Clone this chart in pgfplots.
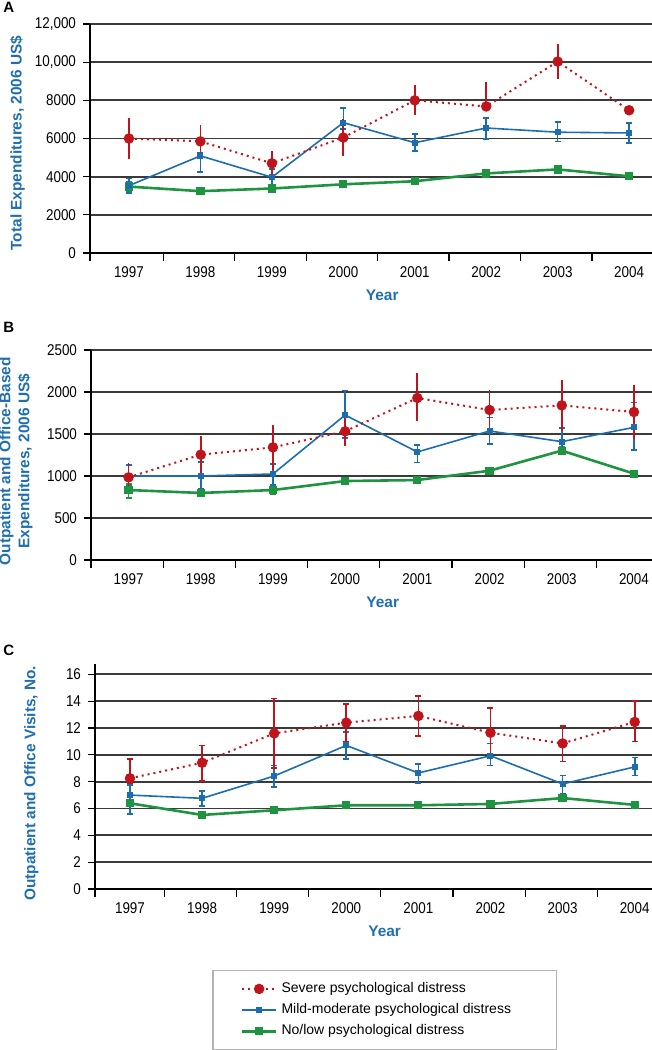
\documentclass[border=0pt]{standalone}
\usepackage{fontspec}
\setmainfont{Liberation Sans}
\newfontfamily\narrowfont[FakeStretch=0.86]{Liberation Sans}
\usepackage{pgfplots}
\pgfplotsset{compat=1.18}
\definecolor{sred}{HTML}{C0141C}
\definecolor{sblue}{HTML}{1C6DB0}
\definecolor{sgreen}{HTML}{1E9440}
\definecolor{lblue}{HTML}{1F6FAF}
\definecolor{darkgrid}{HTML}{3A3A3A}
\definecolor{legendgray}{HTML}{B4B4B4}
\pgfplotsset{
  panel/.style={
    scale only axis,
    axis x line*=bottom, axis y line*=left,
    axis line style={-, black, line width=0.6pt},
    tick align=outside,
    xtick={0,1,2,3,4,5,6,7},
    xticklabels={1997,1998,1999,2000,2001,2002,2003,2004},
    major x tick style={draw=none},
    minor tick length=4pt,
    major tick length=3.5pt,
    tick style={black, line width=0.6pt},
    ymajorgrids,
    scaled y ticks=false,
    grid style={line width=0.9pt, color=darkgrid},
    ticklabel style={font=\narrowfont\fontsize{7.8}{9}\selectfont},
    xlabel={Year},
    label style={font=\bfseries\fontsize{7.7}{9.5}\selectfont, color=lblue},
    clip=false,
  },
  severe/.style={sred, line width=1pt, dash pattern=on 1pt off 2pt, mark=*, mark size=2.1pt,
    mark options={solid, fill=sred},
    error bars/.cd, y dir=both, y explicit, error mark=none,
    error bar style={solid, line width=0.9pt, sred}},
  severecap/.style={sred, line width=1pt, dash pattern=on 1pt off 2pt, mark=*, mark size=2.1pt,
    mark options={solid, fill=sred},
    error bars/.cd, y dir=both, y explicit,
    error bar style={solid, line width=0.8pt, sred},
    error mark options={solid, sred, line width=0.8pt, mark size=1.5pt, rotate=90}},
  mild/.style={sblue, line width=0.8pt, mark=square*, mark size=1.1pt, mark options={solid, fill=sblue},
    error bars/.cd, y dir=both, y explicit,
    error bar style={line width=0.8pt, sblue},
    error mark options={sblue, line width=0.8pt, mark size=1.5pt, rotate=90}},
  nolow/.style={sgreen, line width=1.3pt, mark=square*, mark size=1.4pt, mark options={solid, fill=sgreen},
    error bars/.cd, y dir=both, y explicit,
    error bar style={line width=0.8pt, sgreen},
    error mark options={sgreen, line width=0.8pt, mark size=1.5pt, rotate=90}},
}
\begin{document}
\begin{tikzpicture}
\useasboundingbox (0,0) rectangle (326pt,-525pt);
\node[anchor=north west, inner sep=0pt, font=\bfseries\fontsize{7.5}{9}\selectfont] at (1.5pt,-1pt) {A};
\node[anchor=north west, inner sep=0pt, font=\bfseries\fontsize{7.5}{9}\selectfont] at (1.5pt,-161pt) {B};
\node[anchor=north west, inner sep=0pt, font=\bfseries\fontsize{7.5}{9}\selectfont] at (1.5pt,-322.5pt) {C};

% Panel A
\begin{axis}[panel,
  at={(45pt,-12pt)}, anchor=north west,
  width=281pt, height=114.5pt,
  xmin=-0.545, xmax=7.32,
  minor xtick={-0.545,0.48,1.48,2.48,3.48,4.48,5.48,6.48},
  ymin=0, ymax=12000,
  ytick={0,2000,4000,6000,8000,10000,12000},
  yticklabels={0,2000,4000,6000,8000,{10,000},{12,000}},
  ylabel={Total Expenditures, 2006 US\$},
  ylabel style={at={(axis description cs:-0.129,0.48)}, anchor=center},
  xlabel style={at={(axis description cs:0.52,-0.183)}, anchor=center},
]
\addplot[nolow] coordinates {
 (0,3480) += (0,250) -= (0,250)
 (1,3240) += (0,150) -= (0,150)
 (2,3380) += (0,180) -= (0,180)
 (3,3600) += (0,120) -= (0,120)
 (4,3760) += (0,120) -= (0,120)
 (5,4170) += (0,130) -= (0,130)
 (6,4380) += (0,130) -= (0,130)
 (7,4020) += (0,130) -= (0,130)
};
\addplot[mild] coordinates {
 (0,3530) += (0,380) -= (0,390)
 (1,5090) += (0,170) -= (0,860)
 (2,3970) += (0,430) -= (0,430)
 (3,6830) += (0,770) -= (0,330)
 (4,5780) += (0,450) -= (0,450)
 (5,6550) += (0,540) -= (0,570)
 (6,6330) += (0,550) -= (0,490)
 (7,6290) += (0,520) -= (0,530)
};
\addplot[severe] coordinates {
 (0,6000) += (0,1050) -= (0,1050)
 (1,5850) += (0,850) -= (0,850)
 (2,4700) += (0,650) -= (0,650)
 (3,6050) += (0,950) -= (0,950)
 (4,8000) += (0,810) -= (0,780)
 (5,7680) += (0,1270) -= (0,120)
 (6,10030) += (0,900) -= (0,910)
 (7,7480) += (0,0) -= (0,0)
};
\end{axis}

% Panel B
\begin{axis}[panel,
  at={(45.5pt,-175pt)}, anchor=north west,
  width=280.5pt, height=105pt,
  xmin=-0.52, xmax=7.25,
  minor xtick={-0.52,0.48,1.48,2.48,3.48,4.48,5.48,6.48},
  ymin=0, ymax=2500,
  ytick={0,500,1000,1500,2000,2500},
  yticklabels={0,500,1000,1500,2000,2500},
  ylabel={Outpatient and Office-Based\\Expenditures, 2006 US\$},
  ylabel style={at={(axis description cs:-0.134,0.47)}, anchor=center, align=center},
  xlabel style={at={(axis description cs:0.52,-0.2)}, anchor=center},
]
\addplot[nolow] coordinates {
 (0,833) += (0,72) -= (0,95)
 (1,798) += (0,35) -= (0,35)
 (2,833) += (0,45) -= (0,45)
 (3,940) += (0,28) -= (0,28)
 (4,952) += (0,35) -= (0,35)
 (5,1063) += (0,40) -= (0,40)
 (6,1302) += (0,45) -= (0,45)
 (7,1028) += (0,35) -= (0,35)
};
\addplot[mild] coordinates {
 (0,1000) += (0,131) -= (0,115)
 (1,1000) += (0,170) -= (0,155)
 (2,1024) += (0,119) -= (0,131)
 (3,1726) += (0,290) -= (0,274)
 (4,1286) += (0,83) -= (0,123)
 (5,1536) += (0,162) -= (0,155)
 (6,1409) += (0,162) -= (0,147)
 (7,1579) += (0,298) -= (0,270)
};
\addplot[severe] coordinates {
 (0,984) += (0,170) -= (0,100)
 (1,1254) += (0,218) -= (0,218)
 (2,1341) += (0,270) -= (0,270)
 (3,1532) += (0,180) -= (0,175)
 (4,1929) += (0,293) -= (0,278)
 (5,1786) += (0,238) -= (0,238)
 (6,1841) += (0,302) -= (0,302)
 (7,1762) += (0,325) -= (0,325)
};
\end{axis}

% Panel C
\begin{axis}[panel,
  at={(47.5pt,-332pt)}, anchor=north west,
  width=278.5pt, height=112.5pt,
  xmin=-0.485, xmax=7.24,
  minor xtick={-0.485,0.48,1.48,2.48,3.48,4.48,5.48,6.48},
  ymin=0, ymax=16.77,
  ytick={0,2,4,6,8,10,12,14,16},
  yticklabels={0,2,4,6,8,10,12,14,16},
  ylabel={Outpatient and Office Visits, No.},
  ylabel style={at={(axis description cs:-0.114,0.47)}, anchor=center},
  xlabel style={at={(axis description cs:0.52,-0.19)}, anchor=center},
  reverse legend,
  legend cell align=left,
  legend style={at={(axis description cs:0.21,-0.358)}, anchor=north west,
    draw=legendgray, line width=0.8pt, font=\fontsize{7}{8}\selectfont,
    inner xsep=14pt, inner ysep=4pt, row sep=0pt},
]
\addplot[nolow] coordinates {
 (0,6.39) += (0,0.25) -= (0,0.25)
 (1,5.52) += (0,0.2) -= (0,0.2)
 (2,5.87) += (0,0.25) -= (0,0.25)
 (3,6.24) += (0,0.15) -= (0,0.15)
 (4,6.24) += (0,0.15) -= (0,0.15)
 (5,6.34) += (0,0.15) -= (0,0.15)
 (6,6.78) += (0,0.2) -= (0,0.2)
 (7,6.27) += (0,0.15) -= (0,0.15)
};
\addlegendentry{\makebox[121.5pt][l]{No/low psychological distress}}
\addplot[mild] coordinates {
 (0,7.0) += (0,0.75) -= (0,1.4)
 (1,6.76) += (0,0.54) -= (0,0.56)
 (2,8.42) += (0,0.78) -= (0,0.82)
 (3,10.7) += (0,1.0) -= (0,1.0)
 (4,8.65) += (0,0.65) -= (0,0.75)
 (5,9.93) += (0,0.92) -= (0,0.73)
 (6,7.83) += (0,0.62) -= (0,0.73)
 (7,9.1) += (0,0.7) -= (0,0.65)
};
\addlegendentry{\makebox[121.5pt][l]{Mild-moderate psychological distress}}
\addplot[severecap] coordinates {
 (0,8.25) += (0,1.44) -= (0,0.35)
 (1,9.41) += (0,1.29) -= (0,1.34)
 (2,11.6) += (0,2.6) -= (0,2.6)
 (3,12.4) += (0,1.4) -= (0,1.4)
 (4,12.9) += (0,1.5) -= (0,1.5)
 (5,11.65) += (0,1.85) -= (0,1.55)
 (6,10.85) += (0,1.3) -= (0,1.35)
 (7,12.45) += (0,1.55) -= (0,1.45)
};
\addlegendentry{\makebox[121.5pt][l]{Severe psychological distress}}
\end{axis}
\end{tikzpicture}
\end{document}
